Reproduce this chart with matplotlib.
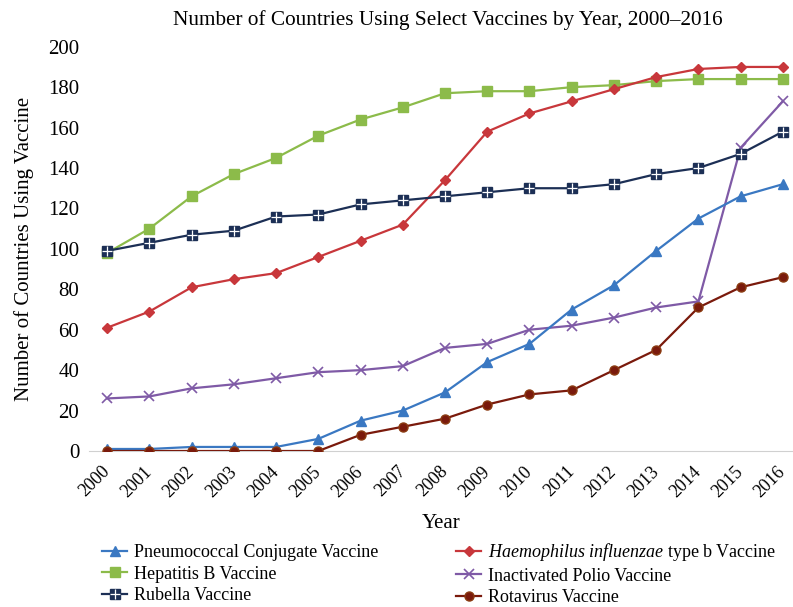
import numpy as np
import matplotlib
matplotlib.use("Agg")
import matplotlib.pyplot as plt
from matplotlib.legend_handler import HandlerTuple

plt.rcParams["font.family"] = ["Liberation Serif", "DejaVu Serif"]
plt.rcParams["mathtext.fontset"] = "custom"
plt.rcParams["mathtext.it"] = "Liberation Serif:italic"
plt.rcParams["mathtext.rm"] = "Liberation Serif"

# ── DATA ──────────────────────────────────────────────────────────────────────
years = list(range(2000, 2017))

pcv     = [1, 1, 2, 2, 2, 6, 15, 20, 29, 44, 53, 70, 82, 99, 115, 126, 132]
hib     = [61, 69, 81, 85, 88, 96, 104, 112, 134, 158, 167, 173, 179, 185, 189, 190, 190]
hepb    = [98, 110, 126, 137, 145, 156, 164, 170, 177, 178, 178, 180, 181, 183, 184, 184, 184]
ipv     = [26, 27, 31, 33, 36, 39, 40, 42, 51, 53, 60, 62, 66, 71, 74, 150, 173]
rubella = [99, 103, 107, 109, 116, 117, 122, 124, 126, 128, 130, 130, 132, 137, 140, 147, 158]
rota    = [0, 0, 0, 0, 0, 0, 8, 12, 16, 23, 28, 30, 40, 50, 71, 81, 86]

labels = ["Pneumococcal Conjugate Vaccine",
          "Hepatitis B Vaccine",
          "Rubella Vaccine",
          r"$\it{Haemophilus\ influenzae}$ type b Vaccine",
          "Inactivated Polio Vaccine",
          "Rotavirus Vaccine"]

# ── PLOT ──────────────────────────────────────────────────────────────────────
fig = plt.figure(figsize=(7.93, 6.07), dpi=100)
ax = fig.add_axes([89 / 793, 0.257, 1 - 89 / 793, 0.666])

lw = 1.6
h_hepb, = ax.plot(years, hepb, color="#8cbb4a", lw=lw, marker="s", ms=6.5, zorder=3)
h_hib,  = ax.plot(years, hib, color="#c8373b", lw=lw, marker="D", ms=5, zorder=3)
h_rub,  = ax.plot(years, rubella, color="#1c2f55", lw=lw, marker="s", ms=6.5, zorder=4)
h_rub2, = ax.plot(years, rubella, ls="none", marker="+", ms=7, mew=0.9,
                  color="white", zorder=5)
h_ipv,  = ax.plot(years, ipv, color="#7f5aa6", lw=lw, marker="x", ms=7, mew=1.2, zorder=3)
h_pcv,  = ax.plot(years, pcv, color="#3a78c2", lw=lw, marker="^", ms=6.5, zorder=3)
h_rota, = ax.plot(years, rota, color="#7a1a0c", lw=lw, marker="o", ms=6.5,
                  mec="#8a3a10", zorder=4)

ax.set_xlim(1999.57, 2016.24)
ax.set_ylim(0, 200)
ax.set_yticks(range(0, 201, 20))
ax.set_xticks(years)
ax.set_xticklabels([str(y) for y in years], rotation=45, ha="right", va="center",
                   rotation_mode="anchor", fontsize=13)
ax.tick_params(axis="y", labelsize=15, length=0, pad=7)
ax.tick_params(axis="x", length=0, pad=13)

for s in ["top", "right", "left"]:
    ax.spines[s].set_visible(False)
ax.spines["bottom"].set_color("#d0d0d0")

ax.set_ylabel("Number of Countries Using Vaccine", fontsize=15, labelpad=10)
ax.set_xlabel("Year", fontsize=15, labelpad=10)
fig.text(0.565, 0.967, "Number of Countries Using Select Vaccines by Year, 2000–2016",
         ha="center", va="center", fontsize=15.3)

handles = [h_pcv, h_hepb, (h_rub, h_rub2), h_hib, h_ipv, h_rota]
fig.legend(handles, labels, ncol=2, loc="upper left",
           bbox_to_anchor=(102 / 793, 1 - 541 / 607), frameon=False, fontsize=13,
           handlelength=1.4, handletextpad=0.37, labelspacing=0.25,
           columnspacing=4.3, borderpad=0, borderaxespad=0,
           handler_map={tuple: HandlerTuple(ndivide=1, pad=0)})

plt.savefig("out.png", dpi=100)
